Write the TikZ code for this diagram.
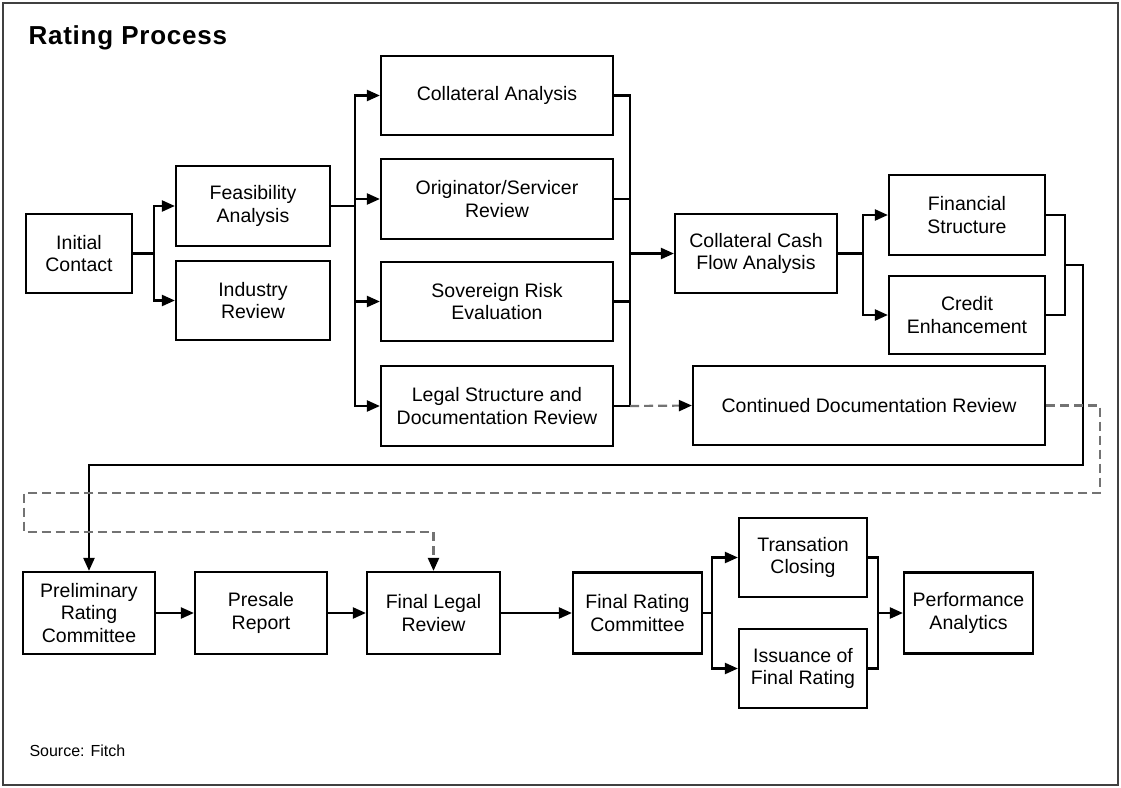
\documentclass[tikz,border=0pt]{standalone}
\usepackage{fontspec}
\setmainfont{Liberation Sans}
\usetikzlibrary{arrows.meta}
\begin{document}
\begin{tikzpicture}[x=1pt,y=-1pt,
  box/.style={draw, line width=2.2pt, rectangle, align=center, inner sep=0pt,
    font=\fontsize{19.5}{22.5}\selectfont},
  link/.style={line width=2.2pt},
  arr/.style={link, -{Triangle[length=13pt,width=11pt]}},
  dashlink/.style={line width=2.2pt, draw=black!55, dash pattern=on 9pt off 5pt},
  dasharr/.style={dashlink, -{Triangle[length=13pt,width=11pt,color=black]}}]
% canvas and outer frame
\useasboundingbox (0,0) rectangle (1121,787);
\draw[line width=2pt, black!75] (3,3) rectangle (1118,785);

\node[anchor=base west, font=\fontsize{26}{30}\bfseries\addfontfeature{LetterSpace=3}] (title) at (25,44) {Rating Process};
\node[anchor=base west, font=\fontsize{16}{19}\selectfont] (src) at (26,756) {Source: Fitch};

% upper stage
\node[box, minimum width=106, minimum height=79] (init) at (79,253.5) {Initial\\Contact};
\node[box, minimum width=154, minimum height=80] (feas) at (253,206) {Feasibility\\Analysis};
\node[box, minimum width=154, minimum height=79] (ind) at (253,300.5) {Industry\\Review};
\node[box, minimum width=232, minimum height=79] (coll) at (497,95.5) {Collateral Analysis};
\node[box, minimum width=232, minimum height=80] (orig) at (497,199) {Originator/Servicer\\Review};
\node[box, minimum width=232, minimum height=79] (sov) at (497,301.5) {Sovereign Risk\\Evaluation};
\node[box, minimum width=232, minimum height=80] (legal) at (497,406) {Legal Structure and\\Documentation Review};
\node[box, minimum width=162, minimum height=79] (ccf) at (756,253.5) {Collateral Cash\\Flow Analysis};
\node[box, minimum width=156, minimum height=80] (fin) at (967,215) {Financial\\Structure};
\node[box, minimum width=156, minimum height=78] (cred) at (967,315) {Credit\\Enhancement};
\node[box, minimum width=352, minimum height=79] (cont) at (869,405.5) {Continued Documentation Review};

% lower stage
\node[box, minimum width=132, minimum height=82] (prel) at (89,613) {Preliminary\\Rating\\Committee};
\node[box, minimum width=132, minimum height=82] (pres) at (261,613) {Presale\\Report};
\node[box, minimum width=133, minimum height=82] (flr) at (433.5,613) {Final Legal\\Review};
\node[box, minimum width=129, minimum height=81] (frc) at (637.5,613) {Final Rating\\Committee};
\node[box, minimum width=128, minimum height=79] (trans) at (803,557.5) {Transation\\Closing};
\node[box, minimum width=128, minimum height=79] (iss) at (803,668.5) {Issuance of\\Final Rating};
\node[box, minimum width=129, minimum height=81] (perf) at (968.5,613) {Performance\\Analytics};

% branch points
\coordinate (j1) at (154,253.5);
\coordinate (j2) at (355,206);
\coordinate (j3) at (630,253.5);
\coordinate (j4) at (863,253.5);
\coordinate (j5) at (1065,265);
\coordinate (k1) at (1083,265);
\coordinate (k2) at (89,465);
\coordinate (d1) at (1100,493);
\coordinate (d2) at (24,493);
\coordinate (d3) at (24,532);
\coordinate (d4) at (433.5,532);
\coordinate (j6) at (712,613);
\coordinate (j7) at (878,613);

% upper connectors
\draw[link] (init.east) -- (j1);
\draw[arr] (j1) |- (feas.west);
\draw[arr] (j1) |- (ind.west);
\draw[link] (feas.east) -- (j2);
\draw[arr] (j2) |- (coll.west);
\draw[arr] (j2) |- (orig.west);
\draw[arr] (j2) |- (sov.west);
\draw[arr] (j2) |- (legal.west);
\draw[link] (coll.east) -| (j3);
\draw[link] (orig.east) -| (j3);
\draw[link] (sov.east) -| (j3);
\draw[link] (legal.east) -| (j3);
\draw[arr] (j3) -- (ccf.west);
\draw[dasharr] (j3 |- legal.east) -- (cont.west);
\draw[link] (ccf.east) -- (j4);
\draw[arr] (j4) |- (fin.west);
\draw[arr] (j4) |- (cred.west);
\draw[link] (fin.east) -| (j5);
\draw[link] (cred.east) -| (j5);
\draw[arr] (j5) -- (k1) |- (k2) -- (prel.north);
\draw[dasharr] (cont.east) -| (d1) -- (d2) -- (d3) -- (d4) -- (flr.north);

% lower connectors
\draw[arr] (prel.east) -- (pres.west);
\draw[arr] (pres.east) -- (flr.west);
\draw[arr] (flr.east) -- (frc.west);
\draw[link] (frc.east) -- (j6);
\draw[arr] (j6) |- (trans.west);
\draw[arr] (j6) |- (iss.west);
\draw[link] (trans.east) -| (j7);
\draw[link] (iss.east) -| (j7);
\draw[arr] (j7) -- (perf.west);
\end{tikzpicture}
\end{document}
